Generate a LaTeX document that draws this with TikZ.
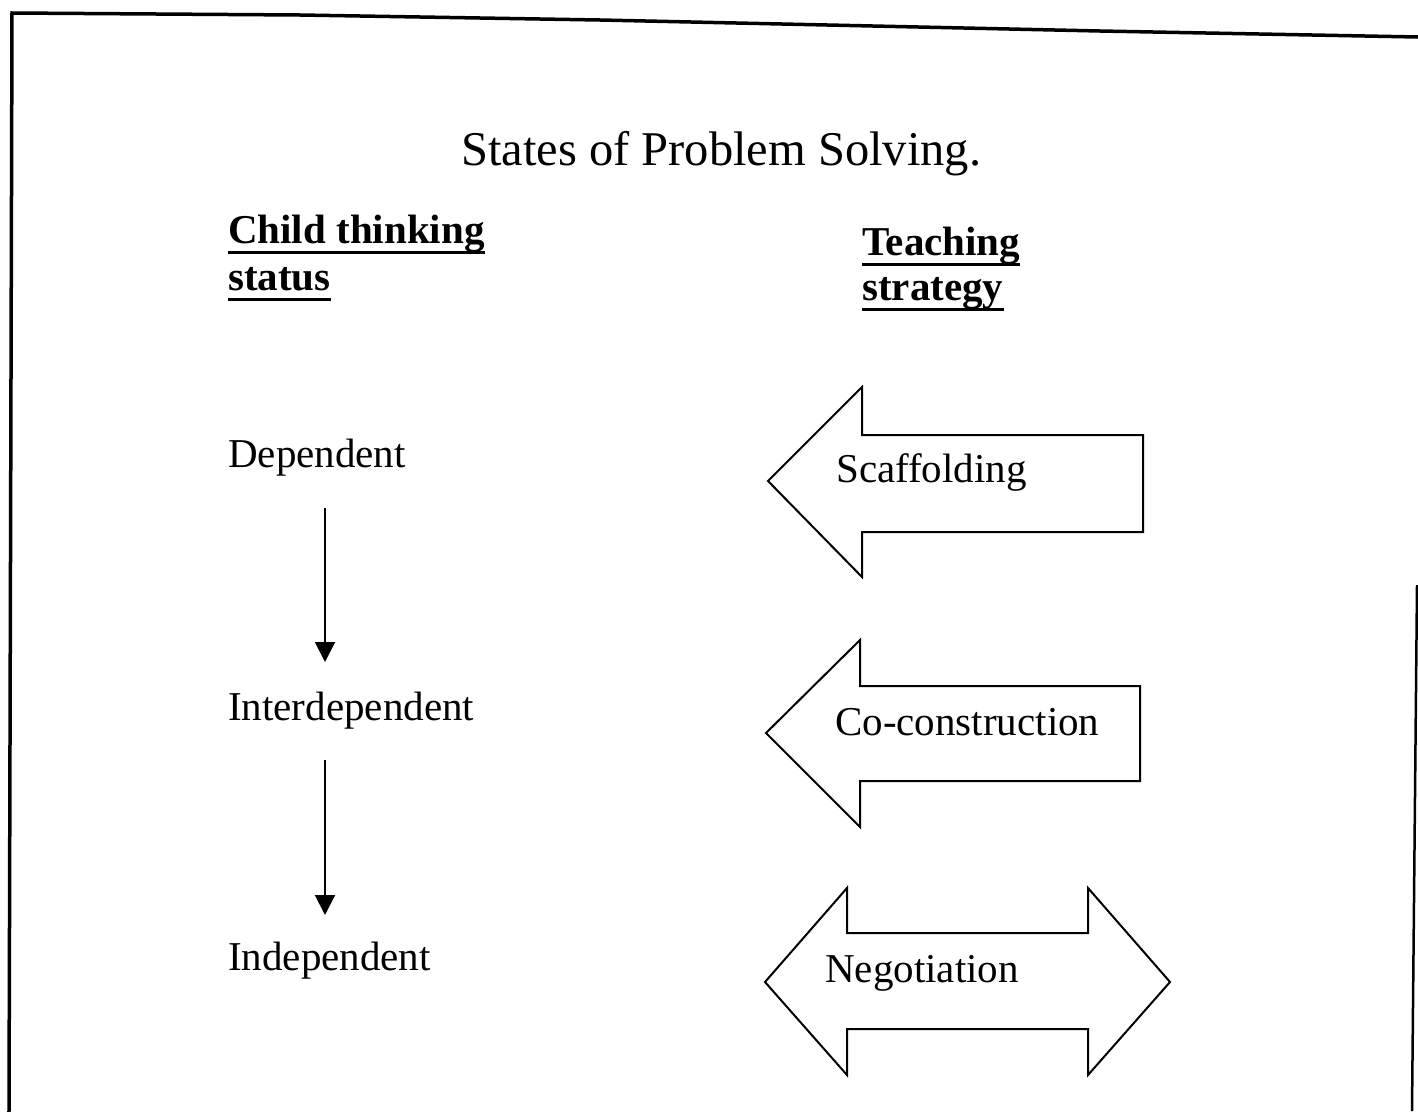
\documentclass[tikz,border=0pt]{standalone}
\usepackage{fontspec}
\setmainfont{Liberation Serif}
\usetikzlibrary{arrows.meta}
\begin{document}
\begin{tikzpicture}[x=1pt,y=-1pt,
  lbl/.style={anchor=base west,inner sep=0pt,font=\fontsize{41}{49}\selectfont},
  hdr/.style={lbl,font=\fontsize{41}{49}\selectfont\bfseries},
  blk/.style={draw=black,line width=2pt,line join=miter},
  flow/.style={line width=2pt,-{Triangle[length=20pt,width=20pt]}},
  frame/.style={line width=3.5pt,line cap=rect}]
\useasboundingbox (0,0) rectangle (1418,1111);

% page frame
\draw[frame] (9,1111) -- (12,13) -- (300,15) -- (600,20) -- (1100,31) -- (1418,37);
\draw[line width=2.5pt] (1417,585) -- (1412,1111);

% title and column headings
\node[anchor=base west,inner sep=0pt,font=\fontsize{48.5}{58}\selectfont] (title) at (461,165) {States of Problem Solving.};
\node[hdr] (chA) at (228,243) {Child thinking};
\node[hdr] (chB) at (228,290) {status};
\node[hdr] (tsA) at (862,255) {Teaching};
\node[hdr] (tsB) at (862,300) {strategy};
\foreach \n in {chA,chB,tsA,tsB}
  \draw[line width=3pt] ([yshift=-9pt]\n.base west) -- ([yshift=-9pt]\n.base east);

% thinking states
\node[lbl] (dep) at (228,467) {Dependent};
\node[lbl] (inter) at (228,720) {Interdependent};
\node[lbl] (indep) at (228,970) {Independent};
\path (dep.base west) ++(97,41) coordinate (a1s);
\path (inter.base west) ++(97,-58) coordinate (a1e);
\path (inter.base west) ++(97,40) coordinate (a2s);
\path (indep.base west) ++(97,-55) coordinate (a2e);
\draw[flow] (a1s) -- (a1e);
\draw[flow] (a2s) -- (a2e);

% teaching strategies as block arrows
\draw[blk] (768,481) -- (862,387) -- (862,435) -- (1143,435) -- (1143,532)
  -- (862,532) -- (862,577) -- cycle;
\node[lbl] (scaf) at (836,482) {Scaffolding};

\draw[blk] (766,733) -- (860,640) -- (860,686) -- (1140,686) -- (1140,781)
  -- (860,781) -- (860,827) -- cycle;
\node[lbl] (cocon) at (835,735) {Co-construction};

\draw[blk] (765,982) -- (847,888) -- (847,933) -- (1088,933) -- (1088,888)
  -- (1170,982) -- (1088,1075) -- (1088,1029) -- (847,1029) -- (847,1075) -- cycle;
\node[lbl] (nego) at (825,982) {Negotiation};
\end{tikzpicture}
\end{document}
